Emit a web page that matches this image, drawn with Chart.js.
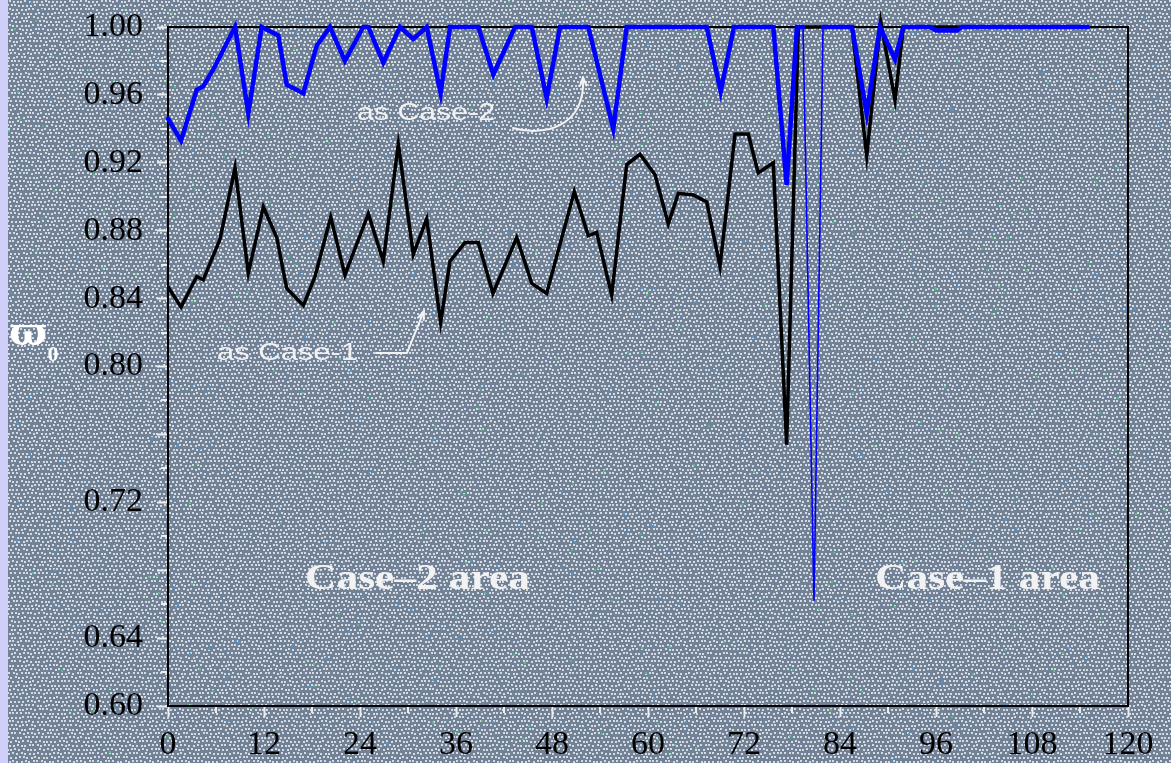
<!DOCTYPE html>
<html>
<head>
<meta charset="utf-8">
<script src="https://cdn.jsdelivr.net/npm/chart.js@4/dist/chart.umd.min.js"></script>
<style>
  html, body { margin: 0; padding: 0; background: #748396; overflow: hidden; }
  canvas { display: block; }
</style>
</head>
<body>
<canvas id="albedo" width="1171" height="763"></canvas>
<script>
// Single scattering albedo retrieved with the Case-2 and Case-1 assumptions
const case2X = [0, 1.63, 3.59, 4.41, 5.66, 8.38, 10.04, 11.71, 13.79, 14.84, 16.92, 18.59, 20.25, 22.12, 24.41,
  25.04, 26.91, 29.00, 30.66, 32.34, 34.08, 35.25, 37.13, 38.79, 40.67, 43.38, 45.47, 47.33, 49.00, 50.87,
  52.54, 55.66, 57.34, 67.34, 69.09, 70.75, 75.66, 77.33, 78.62, 79.38, 80.75, 81.88, 85.50, 87.34, 89.00,
  90.88, 91.92, 95.25, 96.00, 98.63, 99.25, 115.00];
const case2Y = [0.946, 0.933, 0.963, 0.965, 0.975, 1.0, 0.949, 1.0, 0.995, 0.966, 0.961, 0.989, 1.0, 0.980, 1.0,
  1.0, 0.979, 1.0, 0.993, 1.0, 0.961, 1.0, 1.0, 1.0, 0.972, 1.0, 1.0, 0.958, 1.0, 1.0,
  1.0, 0.940, 1.0, 1.0, 0.962, 1.0, 1.0, 0.907, 1.0, 1.0, 0.662, 1.0, 1.0, 0.949, 1.0,
  0.981, 1.0, 1.0, 0.998, 0.998, 1.0, 1.0];

const case1X = [0, 1.63, 3.59, 4.41, 6.50, 8.38, 10.04, 11.92, 13.59, 14.84, 16.92, 18.38, 20.34, 22.12, 25.04,
  26.91, 28.79, 30.66, 32.34, 34.08, 35.25, 37.13, 38.79, 40.62, 43.59, 45.47, 47.33, 50.79, 52.54, 53.59,
  55.46, 57.34, 59.00, 60.88, 62.54, 63.79, 65.67, 67.34, 69.00, 70.88, 72.53, 73.78, 75.66, 77.33, 78.79,
  85.50, 87.34, 89.09, 90.88, 91.92, 115.00];
const case1Y = [0.847, 0.835, 0.853, 0.851, 0.875, 0.917, 0.855, 0.894, 0.876, 0.846, 0.836, 0.853, 0.888, 0.854, 0.890,
  0.862, 0.931, 0.866, 0.887, 0.826, 0.862, 0.873, 0.873, 0.843, 0.876, 0.849, 0.843, 0.903, 0.877, 0.879,
  0.842, 0.919, 0.925, 0.913, 0.884, 0.902, 0.901, 0.897, 0.859, 0.937, 0.937, 0.914, 0.920, 0.754, 1.0,
  1.0, 0.924, 1.003, 0.957, 1.0, 1.0];

// axis ticks
const xMin = 0, xMax = 120, xStep = 12, xMinorStep = 6;
const yMin = 0.60, yMax = 1.00, yStep = 0.04, yMinorStep = 0.02;
const yLabelled = [0.60, 0.64, 0.72, 0.80, 0.84, 0.88, 0.92, 0.96, 1.00];

// text notes placed in data coordinates
const notes = [
  { text: 'as Case-2', x: 32.25, y: 0.9493, width: 138, font: '24px "Liberation Sans", Arial, sans-serif' },
  { text: 'as Case-1', x: 14.94, y: 0.808, width: 141, font: '24px "Liberation Sans", Arial, sans-serif' },
  { text: 'Case\u20132 area', x: 31.19, y: 0.6742, width: 225, font: 'bold 36px "Liberation Serif", "Times New Roman", serif' },
  { text: 'Case\u20131 area', x: 102.44, y: 0.6742, width: 225, font: 'bold 36px "Liberation Serif", "Times New Roman", serif' }
];

const tickFamily = '"Liberation Serif", "Times New Roman", serif';

// speckled slate backdrop
function makeBackdrop(w, h) {
  const cv = document.createElement('canvas');
  cv.width = w; cv.height = h;
  const g = cv.getContext('2d');
  g.fillStyle = '#718196';
  g.fillRect(0, 0, w, h);
  let s = 20240607;
  const rnd = () => { s = (Math.imul(s, 1664525) + 1013904223) >>> 0; return s / 4294967296; };
  g.fillStyle = '#d6dbe3';
  for (let y = 0; y < h; y += 4) {
    const off = ((y / 4) % 2) * 2;
    for (let x = off; x < w; x += 4) {
      g.fillRect(x + Math.floor(rnd() * 2), y + Math.floor(rnd() * 2), 2, 2);
    }
  }
  const specks = Math.floor(w * h / 1600);
  for (let i = 0; i < specks; i++) {
    g.fillStyle = rnd() < 0.55 ? '#52c27e' : '#4a9ade';
    g.fillRect(Math.floor(rnd() * w), Math.floor(rnd() * h), 2, 2);
  }
  g.fillStyle = '#cfcffa';
  g.fillRect(0, 0, 8, h);
  return cv;
}

const backdropPlugin = {
  id: 'backdrop',
  beforeDraw(chart) {
    if (!chart.$backdrop) chart.$backdrop = makeBackdrop(chart.width, chart.height);
    chart.ctx.drawImage(chart.$backdrop, 0, 0);
  }
};

// closed frame plus the short minor ticks
const framePlugin = {
  id: 'frame',
  beforeDatasetsDraw(chart) {
    const { ctx, chartArea: a, scales: { x, y } } = chart;
    ctx.save();
    ctx.strokeStyle = '#000';
    ctx.lineWidth = 2;
    ctx.beginPath();
    ctx.moveTo(a.left, a.top);
    ctx.lineTo(a.right, a.top);
    ctx.lineTo(a.right, a.bottom);
    ctx.stroke();
    ctx.strokeStyle = '#eeeeee';
    ctx.beginPath();
    for (let v = xMin + xMinorStep; v < xMax; v += xStep) {
      const p = Math.round(x.getPixelForValue(v));
      ctx.moveTo(p, a.bottom + 1);
      ctx.lineTo(p, a.bottom + 7);
    }
    for (let v = yMin + yMinorStep; v < yMax; v += yStep) {
      const p = Math.round(y.getPixelForValue(v));
      ctx.moveTo(a.left - 1, p);
      ctx.lineTo(a.left - 7, p);
    }
    ctx.stroke();
    ctx.restore();
  }
};

function fitText(ctx, text, cx, cy, width, font, color) {
  ctx.save();
  ctx.font = font;
  ctx.fillStyle = color;
  ctx.textAlign = 'center';
  ctx.textBaseline = 'middle';
  const w = ctx.measureText(text).width;
  ctx.translate(cx, cy);
  ctx.scale(width / w, 1);
  ctx.fillText(text, 0, 0);
  ctx.restore();
}

function arrowHead(ctx, tx, ty, fromX, fromY, len, spread) {
  const ang = Math.atan2(ty - fromY, tx - fromX);
  ctx.beginPath();
  ctx.moveTo(tx - len * Math.cos(ang - spread), ty - len * Math.sin(ang - spread));
  ctx.lineTo(tx, ty);
  ctx.lineTo(tx - len * Math.cos(ang + spread), ty - len * Math.sin(ang + spread));
  ctx.stroke();
}

const notesPlugin = {
  id: 'notes',
  afterDatasetsDraw(chart) {
    const { ctx, scales: { x, y } } = chart;
    const px = v => x.getPixelForValue(v);
    const py = v => y.getPixelForValue(v);
    notes.forEach(n => fitText(ctx, n.text, px(n.x), py(n.y), n.width, n.font, '#f2f2f2'));

    ctx.save();
    ctx.strokeStyle = '#f2f2f2';
    ctx.lineWidth = 2;
    ctx.lineCap = 'round';
    ctx.lineJoin = 'round';
    // hooked arrow from the Case-2 note
    const c0 = [px(43.13), py(0.9405)], c1 = [px(46.5), py(0.9358)],
          c2 = [px(52.25), py(0.9393)], c3 = [px(51.88), py(0.9705)];
    ctx.beginPath();
    ctx.moveTo(c0[0], c0[1]);
    ctx.bezierCurveTo(c1[0], c1[1], c2[0], c2[1], c3[0], c3[1]);
    ctx.stroke();
    arrowHead(ctx, c3[0], c3[1], c2[0] - 2, c2[1], 9, 0.35);
    // elbow arrow from the Case-1 note
    const e0 = [px(26.0), py(0.808)], e1 = [px(29.88), py(0.808)], e2 = [px(32.0), py(0.8327)];
    ctx.beginPath();
    ctx.moveTo(e0[0], e0[1]);
    ctx.lineTo(e1[0], e1[1]);
    ctx.lineTo(e2[0], e2[1]);
    ctx.stroke();
    arrowHead(ctx, e2[0], e2[1], e1[0], e1[1], 9, 0.35);
    ctx.restore();

    // axis symbol: mean single scattering albedo
    ctx.save();
    ctx.fillStyle = '#ffffff';
    ctx.textAlign = 'center';
    ctx.textBaseline = 'alphabetic';
    ctx.font = 'bold 40px "DejaVu Serif", "Liberation Serif", serif';
    ctx.fillText('\u03D6', 28, 345);
    ctx.font = 'bold 22px "Liberation Serif", serif';
    ctx.fillText('0', 53, 361);
    ctx.restore();
  }
};

const toPoints = (xs, ys) => xs.map((v, i) => ({ x: v, y: ys[i] }));

new Chart(document.getElementById('albedo'), {
  type: 'line',
  data: {
    datasets: [
      {
        label: 'Case-2',
        data: toPoints(case2X, case2Y),
        borderColor: '#0000ff',
        borderWidth: 4.5,
        borderJoinStyle: 'miter',
        borderCapStyle: 'round',
        pointRadius: 0,
        tension: 0,
        clip: false,
        segment: {
          borderWidth: c => Math.abs(c.p1.y - c.p0.y) > 300 ? 1.6 : 4.5
        }
      },
      {
        label: 'Case-1',
        data: toPoints(case1X, case1Y),
        borderColor: '#000000',
        borderWidth: 3.5,
        borderJoinStyle: 'miter',
        pointRadius: 0,
        tension: 0,
        clip: false
      }
    ]
  },
  options: {
    responsive: false,
    animation: false,
    devicePixelRatio: 1,
    events: [],
    layout: { padding: { top: 27, right: 43, left: 0, bottom: 0 } },
    plugins: { legend: { display: false }, tooltip: { enabled: false } },
    scales: {
      x: {
        type: 'linear',
        min: xMin,
        max: xMax,
        ticks: { stepSize: xStep, color: '#000', font: { family: tickFamily, size: 34 }, padding: 8, maxRotation: 0, autoSkip: false },
        grid: { drawOnChartArea: false, color: '#eeeeee', tickLength: 11, tickWidth: 2 },
        border: { display: true, color: '#000', width: 2 },
        afterFit: s => { s.height = 57; }
      },
      y: {
        type: 'linear',
        min: yMin,
        max: yMax,
        ticks: {
          stepSize: yStep,
          color: '#000',
          font: { family: tickFamily, size: 34, lineHeight: 0.5 },
          padding: 14,
          autoSkip: false,
          callback: v => yLabelled.some(t => Math.abs(t - v) < 1e-6) ? v.toFixed(2) : ''
        },
        grid: { drawOnChartArea: false, color: '#eeeeee', tickLength: 11, tickWidth: 2 },
        border: { display: true, color: '#000', width: 2 },
        afterFit: s => { s.width = 168; }
      }
    }
  },
  plugins: [backdropPlugin, framePlugin, notesPlugin]
});
</script>
</body>
</html>
